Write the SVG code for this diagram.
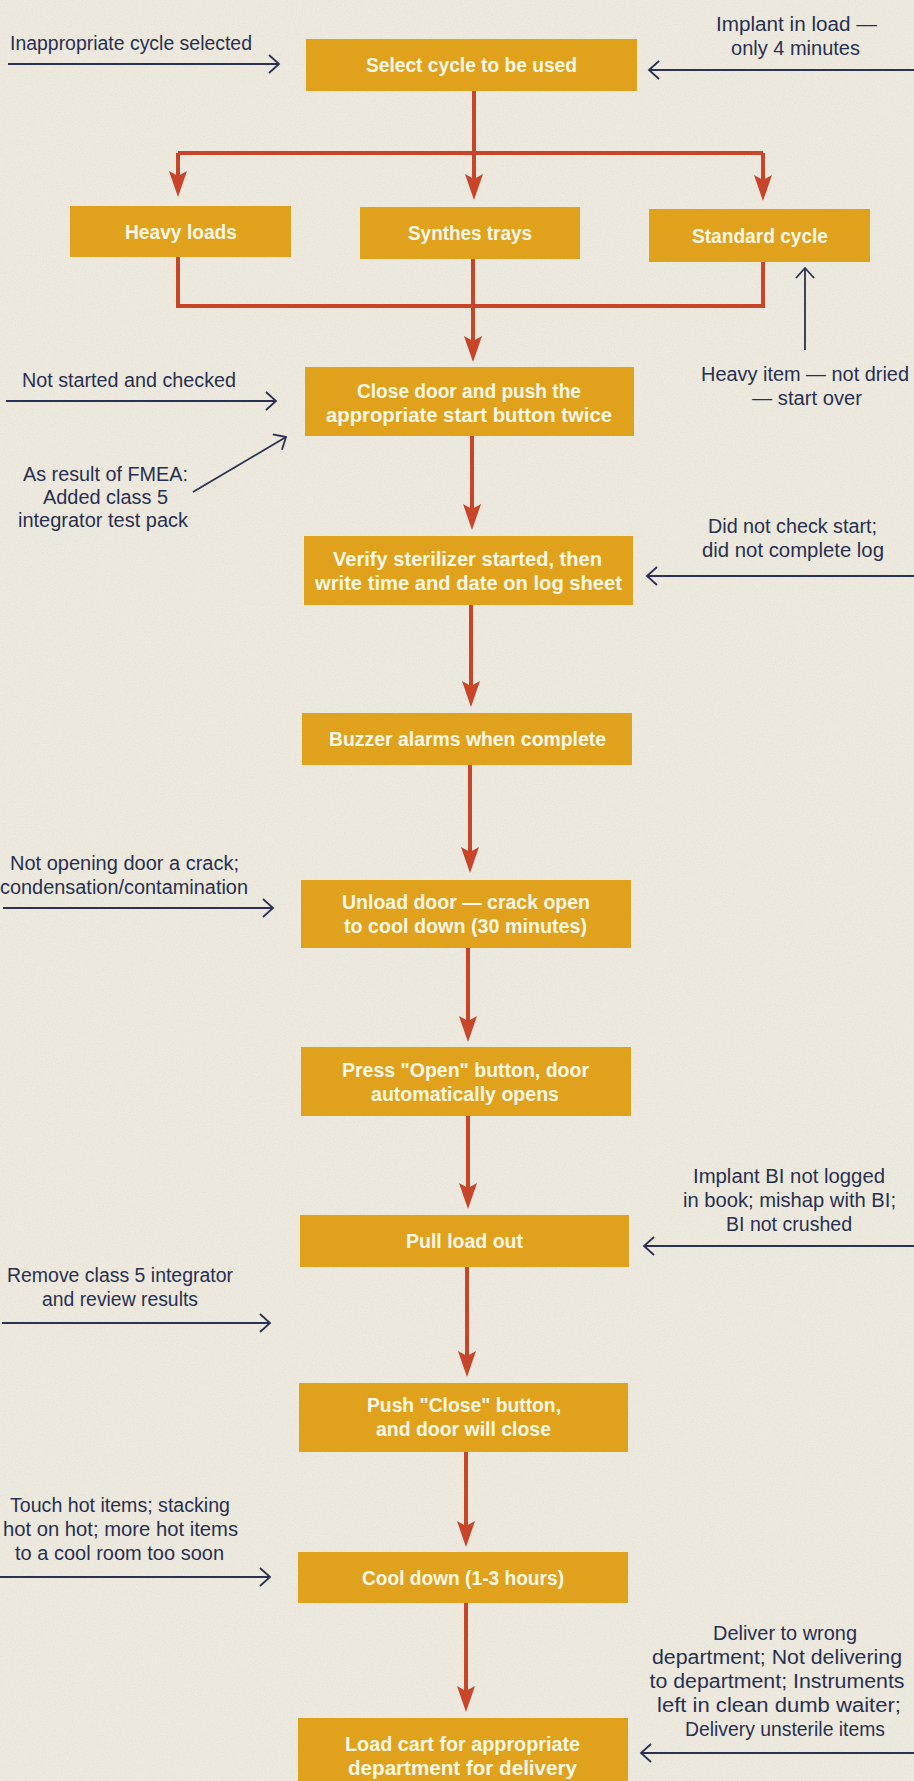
<svg xmlns="http://www.w3.org/2000/svg" xmlns:xlink="http://www.w3.org/1999/xlink" width="914" height="1781" viewBox="0 0 914 1781">
<style>
.bg{fill:#eeeadf}
.box{fill:#e0a21d}
.bt{font-family:"Liberation Sans",Arial,sans-serif;font-weight:700;font-size:20px;fill:#fdf7e6;text-anchor:middle}
.at{font-family:"Liberation Sans",Arial,sans-serif;font-weight:400;font-size:20px;fill:#283050;text-anchor:middle}
.red{stroke:#c8452a;stroke-width:4;fill:none}
.redh{fill:#c8452a}
.navy{stroke:#2a3152;stroke-width:1.8;fill:none}
</style>
<defs>
<path id="ah" d="M0,0 L-9,-26 L0,-21 L9,-26 Z"/>
<path id="chev" d="M-10,-9 L0,0 L-10,9"/>
<filter id="paper" x="0" y="0" width="100%" height="100%">
<feTurbulence type="fractalNoise" baseFrequency="0.9" numOctaves="2" seed="3" result="n"/>
<feColorMatrix type="matrix" values="0 0 0 0 0.55  0 0 0 0 0.52  0 0 0 0 0.45  0 0 0 -1.2 0.75" in="n"/>
</filter>
</defs>
<rect class="bg" x="0" y="0" width="914" height="1781"/>
<rect x="0" y="0" width="914" height="1781" filter="url(#paper)" opacity="0.3"/>

<g id="connectors">
<path class="red" d="M474,91 V186"/>
<path class="red" d="M178,153 H763"/>
<path class="red" d="M178,153 V183"/>
<path class="red" d="M763,153 V187"/>
<path class="red" d="M178,257 V306 H763 V262"/>
<path class="red" d="M473,259 V349"/>
<path class="red" d="M472,436 V517"/>
<path class="red" d="M471,605 V694"/>
<path class="red" d="M470,765 V860"/>
<path class="red" d="M468,948 V1029"/>
<path class="red" d="M468,1116 V1196"/>
<path class="red" d="M467,1267 V1364"/>
<path class="red" d="M466,1452 V1534"/>
<path class="red" d="M466,1603 V1699"/>
<g class="redh">
<use xlink:href="#ah" x="474" y="200"/>
<use xlink:href="#ah" x="178" y="197"/>
<use xlink:href="#ah" x="763" y="201"/>
<use xlink:href="#ah" x="473" y="362"/>
<use xlink:href="#ah" x="472" y="530"/>
<use xlink:href="#ah" x="471" y="707"/>
<use xlink:href="#ah" x="470" y="873"/>
<use xlink:href="#ah" x="468" y="1042"/>
<use xlink:href="#ah" x="468" y="1209"/>
<use xlink:href="#ah" x="467" y="1377"/>
<use xlink:href="#ah" x="466" y="1547"/>
<use xlink:href="#ah" x="466" y="1712"/>
</g>
<g class="navy">
<path d="M8,64 H279"/><use xlink:href="#chev" transform="translate(279,64)"/>
<path d="M914,70 H649"/><use xlink:href="#chev" transform="translate(649,70) rotate(180)"/>
<path d="M6,401 H276"/><use xlink:href="#chev" transform="translate(276,401)"/>
<path d="M805,350 V268"/><use xlink:href="#chev" transform="translate(805,268) rotate(-90)"/>
<path d="M193,492 L286,437"/><use xlink:href="#chev" transform="translate(286,437) rotate(-30.6)"/>
<path d="M914,576 H647"/><use xlink:href="#chev" transform="translate(647,576) rotate(180)"/>
<path d="M3,908 H273"/><use xlink:href="#chev" transform="translate(273,908)"/>
<path d="M914,1246 H644"/><use xlink:href="#chev" transform="translate(644,1246) rotate(180)"/>
<path d="M2,1323 H270"/><use xlink:href="#chev" transform="translate(270,1323)"/>
<path d="M0,1577 H270"/><use xlink:href="#chev" transform="translate(270,1577)"/>
<path d="M914,1753 H641"/><use xlink:href="#chev" transform="translate(641,1753) rotate(180)"/>
</g>
</g>

<g id="n-select"><rect class="box" x="306" y="39" width="331" height="52"/>
<text class="bt" x="471.5" y="72" textLength="211" lengthAdjust="spacingAndGlyphs">Select cycle to be used</text></g>
<g id="n-heavy"><rect class="box" x="70" y="206" width="221" height="51"/>
<text class="bt" x="181" y="239" textLength="112" lengthAdjust="spacingAndGlyphs">Heavy loads</text></g>
<g id="n-synthes"><rect class="box" x="360" y="207" width="220" height="52"/>
<text class="bt" x="470" y="240" textLength="124" lengthAdjust="spacingAndGlyphs">Synthes trays</text></g>
<g id="n-standard"><rect class="box" x="649" y="209" width="221" height="53"/>
<text class="bt" x="760" y="243" textLength="136" lengthAdjust="spacingAndGlyphs">Standard cycle</text></g>
<g id="n-close"><rect class="box" x="305" y="367" width="329" height="69"/>
<text class="bt" x="469" y="398" textLength="224" lengthAdjust="spacingAndGlyphs">Close door and push the</text>
<text class="bt" x="469" y="422" textLength="286" lengthAdjust="spacingAndGlyphs">appropriate start button twice</text></g>
<g id="n-verify"><rect class="box" x="304" y="536" width="329" height="69"/>
<text class="bt" x="467.5" y="566" textLength="269" lengthAdjust="spacingAndGlyphs">Verify sterilizer started, then</text>
<text class="bt" x="468.5" y="590" textLength="307" lengthAdjust="spacingAndGlyphs">write time and date on log sheet</text></g>
<g id="n-buzzer"><rect class="box" x="302" y="713" width="330" height="52"/>
<text class="bt" x="467.5" y="746" textLength="277" lengthAdjust="spacingAndGlyphs">Buzzer alarms when complete</text></g>
<g id="n-unload"><rect class="box" x="301" y="880" width="330" height="68"/>
<text class="bt" x="466" y="909" textLength="248" lengthAdjust="spacingAndGlyphs">Unload door — crack open</text>
<text class="bt" x="465.5" y="933" textLength="243" lengthAdjust="spacingAndGlyphs">to cool down (30 minutes)</text></g>
<g id="n-press"><rect class="box" x="301" y="1047" width="330" height="69"/>
<text class="bt" x="465.5" y="1077" textLength="247" lengthAdjust="spacingAndGlyphs">Press "Open" button, door</text>
<text class="bt" x="465" y="1101" textLength="188" lengthAdjust="spacingAndGlyphs">automatically opens</text></g>
<g id="n-pull"><rect class="box" x="300" y="1215" width="329" height="52"/>
<text class="bt" x="464.5" y="1248" textLength="117" lengthAdjust="spacingAndGlyphs">Pull load out</text></g>
<g id="n-push"><rect class="box" x="299" y="1383" width="329" height="69"/>
<text class="bt" x="464" y="1412" textLength="194" lengthAdjust="spacingAndGlyphs">Push "Close" button,</text>
<text class="bt" x="463.5" y="1436" textLength="175" lengthAdjust="spacingAndGlyphs">and door will close</text></g>
<g id="n-cool"><rect class="box" x="298" y="1552" width="330" height="51"/>
<text class="bt" x="463" y="1585" textLength="202" lengthAdjust="spacingAndGlyphs">Cool down (1-3 hours)</text></g>
<g id="n-load"><rect class="box" x="298" y="1718" width="330" height="70"/>
<text class="bt" x="462.5" y="1751" textLength="235" lengthAdjust="spacingAndGlyphs">Load cart for appropriate</text>
<text class="bt" x="462.5" y="1775" textLength="229" lengthAdjust="spacingAndGlyphs">department for delivery</text></g>

<g id="a-inappropriate"><text class="at" x="131" y="50" textLength="242" lengthAdjust="spacingAndGlyphs">Inappropriate cycle selected</text></g>
<g id="a-implant"><text class="at" x="796.5" y="31" textLength="161" lengthAdjust="spacingAndGlyphs">Implant in load —</text>
<text class="at" x="795.5" y="55" textLength="129" lengthAdjust="spacingAndGlyphs">only 4 minutes</text></g>
<g id="a-notstarted"><text class="at" x="129" y="387" textLength="214" lengthAdjust="spacingAndGlyphs">Not started and checked</text></g>
<g id="a-heavyitem"><text class="at" x="805" y="381" textLength="208" lengthAdjust="spacingAndGlyphs">Heavy item — not dried</text>
<text class="at" x="807" y="405" textLength="110" lengthAdjust="spacingAndGlyphs">— start over</text></g>
<g id="a-fmea"><text class="at" x="105.5" y="481" textLength="165" lengthAdjust="spacingAndGlyphs">As result of FMEA:</text>
<text class="at" x="105.5" y="504" textLength="125" lengthAdjust="spacingAndGlyphs">Added class 5</text>
<text class="at" x="103" y="527" textLength="170" lengthAdjust="spacingAndGlyphs">integrator test pack</text></g>
<g id="a-didnot"><text class="at" x="792.5" y="533" textLength="169" lengthAdjust="spacingAndGlyphs">Did not check start;</text>
<text class="at" x="793" y="557" textLength="182" lengthAdjust="spacingAndGlyphs">did not complete log</text></g>
<g id="a-notopening"><text class="at" x="124.5" y="870" textLength="229" lengthAdjust="spacingAndGlyphs">Not opening door a crack;</text>
<text class="at" x="124" y="894" textLength="248" lengthAdjust="spacingAndGlyphs">condensation/contamination</text></g>
<g id="a-implantbi"><text class="at" x="789" y="1183" textLength="192" lengthAdjust="spacingAndGlyphs">Implant BI not logged</text>
<text class="at" x="789.5" y="1207" textLength="213" lengthAdjust="spacingAndGlyphs">in book; mishap with BI;</text>
<text class="at" x="789" y="1231" textLength="126" lengthAdjust="spacingAndGlyphs">BI not crushed</text></g>
<g id="a-remove"><text class="at" x="120" y="1282" textLength="226" lengthAdjust="spacingAndGlyphs">Remove class 5 integrator</text>
<text class="at" x="120" y="1306" textLength="156" lengthAdjust="spacingAndGlyphs">and review results</text></g>
<g id="a-touch"><text class="at" x="120" y="1512" textLength="220" lengthAdjust="spacingAndGlyphs">Touch hot items; stacking</text>
<text class="at" x="120.5" y="1536" textLength="235" lengthAdjust="spacingAndGlyphs">hot on hot; more hot items</text>
<text class="at" x="119.5" y="1560" textLength="209" lengthAdjust="spacingAndGlyphs">to a cool room too soon</text></g>
<g id="a-deliver"><text class="at" x="785" y="1640" textLength="144" lengthAdjust="spacingAndGlyphs">Deliver to wrong</text>
<text class="at" x="777" y="1664" textLength="250" lengthAdjust="spacingAndGlyphs">department; Not delivering</text>
<text class="at" x="777" y="1688" textLength="255" lengthAdjust="spacingAndGlyphs">to department; Instruments</text>
<text class="at" x="779" y="1712" textLength="244" lengthAdjust="spacingAndGlyphs">left in clean dumb waiter;</text>
<text class="at" x="785" y="1736" textLength="200" lengthAdjust="spacingAndGlyphs">Delivery unsterile items</text></g>
</svg>
